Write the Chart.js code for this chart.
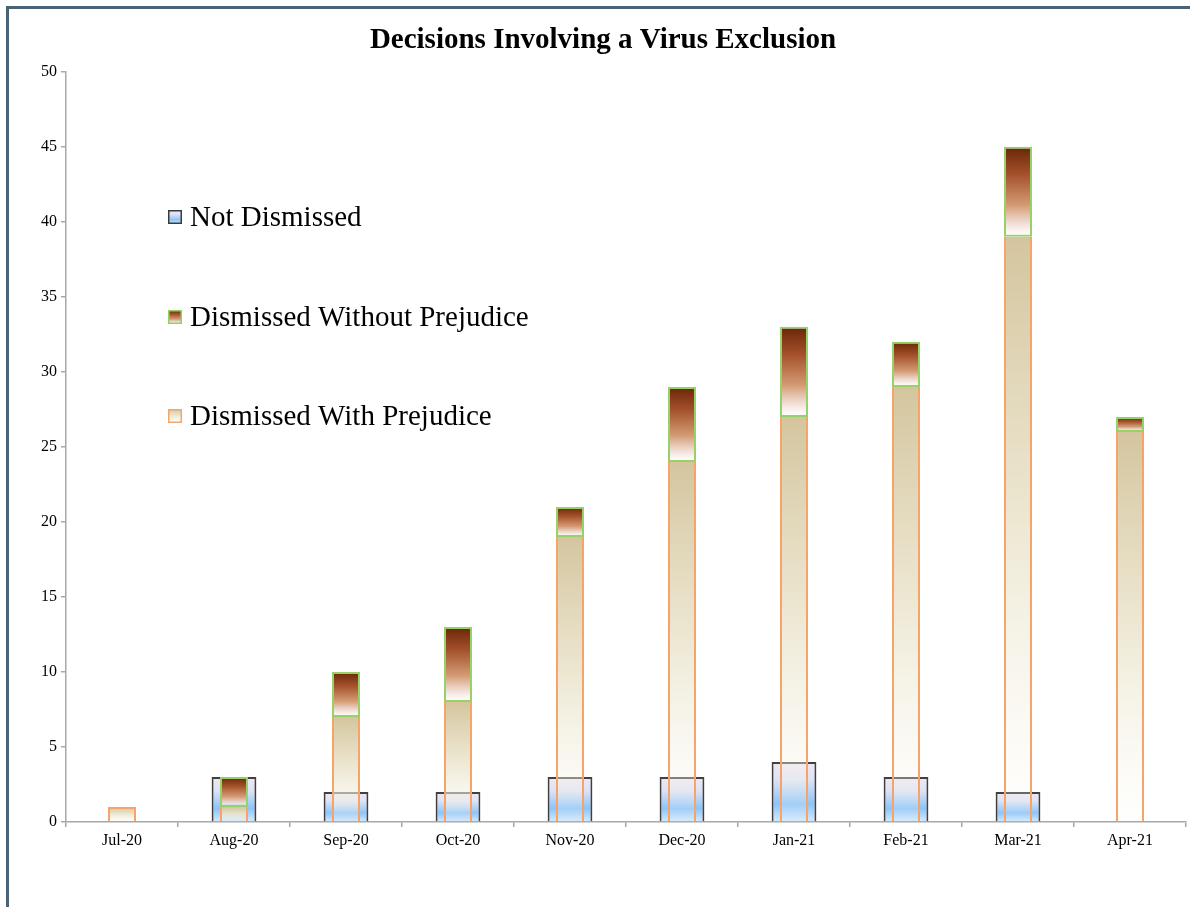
<!DOCTYPE html>
<html>
<head>
<meta charset="utf-8">
<title>Decisions Involving a Virus Exclusion</title>
<script src="https://cdn.jsdelivr.net/npm/chart.js@4/dist/chart.umd.min.js"></script>
<style>
  body { margin: 0; background: #fff; }
  #wrap { position: relative; width: 1190px; height: 907px; }
  #frame {
    position: absolute; left: 6px; top: 6px; right: 0; bottom: 0;
    border-left: 3px solid #4a6476; border-top: 3px solid #4a6476;
    pointer-events: none;
  }
</style>
</head>
<body>
<div id="wrap">
  <canvas id="graficoDecisoes" width="1190" height="907"></canvas>
  <div id="frame"></div>
</div>
<script>
var meses = ["Jul-20", "Aug-20", "Sep-20", "Oct-20", "Nov-20", "Dec-20", "Jan-21", "Feb-21", "Mar-21", "Apr-21"];
var naoDispensados = [0, 3, 2, 2, 3, 3, 4, 3, 2, 0];
var comPrejuizo = [1, 1, 7, 8, 19, 24, 27, 29, 39, 26];
var semPrejuizo = [0, 2, 3, 5, 2, 5, 6, 3, 6, 1];

var serif = "'Liberation Serif', 'Times New Roman', serif";

var coresAzul = [[0, "#f1e7f3"], [0.3, "#dde3f5"], [0.7, "#8cc4fa"], [1, "#d8ebfd"]];
var coresBege = [[0, "rgba(212,197,158,1)"], [0.5, "rgba(236,230,207,0.9)"], [0.8, "rgba(244,241,228,0.5)"], [1, "rgba(250,249,240,0.12)"]];
var coresMarrom = [[0, "#692608"], [0.3, "#a3502a"], [0.65, "#d49b74"], [0.88, "rgba(242,226,218,0.85)"], [1, "rgba(250,245,245,0.2)"]];

function gradiente(ctx, cores, y0, y1) {
  var g = ctx.createLinearGradient(0, y0, 0, y1);
  cores.forEach(function (c) { g.addColorStop(c[0], c[1]); });
  return g;
}

// fill for each bar, stretched from the bar's base to its top
function preenchimento(cores, base, topo) {
  return function (c) {
    if (c.type !== "data") return cores[0][1];
    var y = c.chart.scales.y;
    var y0 = y.getPixelForValue(topo(c.dataIndex));
    var y1 = y.getPixelForValue(base(c.dataIndex));
    if (!isFinite(y0) || !isFinite(y1) || y0 === y1) return cores[0][1];
    return gradiente(c.chart.ctx, cores, y0, y1);
  };
}

function borda(valores, largura) {
  return function (c) {
    return valores[c.dataIndex] ? largura : 0;
  };
}

var legendaLivre = {
  id: "legendaLivre",
  afterDraw: function (chart) {
    var ctx = chart.ctx;
    var itens = [
      { texto: "Not Dismissed", cores: coresAzul, borda: "#3b3b3b", y: 217 },
      { texto: "Dismissed Without Prejudice", cores: coresMarrom, borda: "#94d163", y: 317 },
      { texto: "Dismissed With Prejudice", cores: coresBege, borda: "#f5a667", y: 416 }
    ];
    ctx.save();
    itens.forEach(function (it) {
      var x = 168, y = it.y - 7;
      ctx.fillStyle = gradiente(ctx, it.cores, y, y + 14);
      ctx.fillRect(x, y, 14, 14);
      ctx.lineWidth = 1.5;
      ctx.strokeStyle = it.borda;
      ctx.strokeRect(x + 0.75, y + 0.75, 12.5, 12.5);
      ctx.fillStyle = "#000";
      ctx.font = "29px " + serif;
      ctx.textBaseline = "middle";
      ctx.fillText(it.texto, 190, it.y + 1);
    });
    ctx.restore();
  }
};

var el = document.getElementById("graficoDecisoes");
new Chart(el, {
  type: "bar",
  data: {
    labels: meses,
    datasets: [
      {
        label: "Not Dismissed",
        data: naoDispensados,
        stack: "nd",
        order: 3,
        grouped: false,
        barPercentage: 0.4,
        categoryPercentage: 1,
        backgroundColor: preenchimento(coresAzul, function () { return 0; }, function (i) { return naoDispensados[i]; }),
        borderColor: "#404040",
        borderWidth: borda(naoDispensados, 2)
      },
      {
        label: "Dismissed With Prejudice",
        data: comPrejuizo,
        stack: "d",
        order: 1,
        grouped: false,
        barPercentage: 0.25,
        categoryPercentage: 1,
        backgroundColor: preenchimento(coresBege, function () { return 0; }, function (i) { return comPrejuizo[i]; }),
        borderColor: "#f6a56a",
        // the green edge of the bar above takes the top line when there is one
        borderWidth: function (c) {
          if (!comPrejuizo[c.dataIndex]) return 0;
          return { left: 2, right: 2, bottom: 0, top: semPrejuizo[c.dataIndex] ? 0 : 2 };
        }
      },
      {
        label: "Dismissed Without Prejudice",
        data: semPrejuizo,
        stack: "d",
        order: 2,
        grouped: false,
        barPercentage: 0.25,
        categoryPercentage: 1,
        backgroundColor: preenchimento(coresMarrom, function (i) { return comPrejuizo[i]; }, function (i) { return comPrejuizo[i] + semPrejuizo[i]; }),
        borderColor: "#96d16a",
        borderSkipped: false,
        borderWidth: borda(semPrejuizo, 2)
      }
    ]
  },
  options: {
    responsive: false,
    animation: false,
    events: [],
    layout: { padding: { left: 20, right: 4, top: 0, bottom: 0 } },
    plugins: {
      legend: { display: false },
      tooltip: { enabled: false },
      title: {
        display: true,
        text: "Decisions Involving a Virus Exclusion",
        color: "#000",
        font: { family: serif, size: 29, weight: "bold", lineHeight: 1.2 },
        padding: { top: 23, bottom: 14 }
      }
    },
    scales: {
      x: {
        stacked: true,
        afterFit: function (s) { s.height = 85; },
        grid: { display: true, drawOnChartArea: false, offset: true, tickLength: 5, color: "#a8a8a8", lineWidth: 1.5 },
        border: { display: true, color: "#a8a8a8", width: 1.5 },
        ticks: { color: "#000", padding: 4, font: { family: serif, size: 16 } }
      },
      y: {
        stacked: true,
        min: 0,
        max: 50,
        afterFit: function (s) { s.width = 46; },
        grid: { display: true, drawOnChartArea: false, tickLength: 5, color: "#a8a8a8", lineWidth: 1.5 },
        border: { display: true, color: "#a8a8a8", width: 1.5 },
        ticks: { stepSize: 5, color: "#000", padding: 4, font: { family: serif, size: 16 } }
      }
    }
  },
  plugins: [legendaLivre]
});
</script>
</body>
</html>
